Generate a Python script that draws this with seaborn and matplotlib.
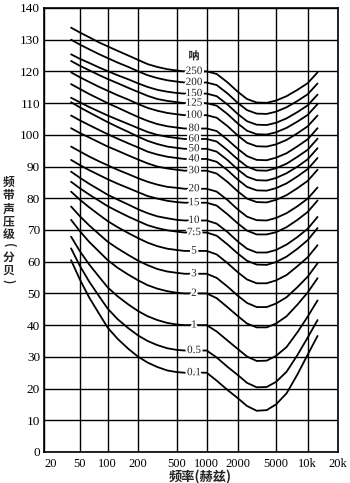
import numpy as np
import pandas as pd
import matplotlib
matplotlib.use("Agg")
import matplotlib.pyplot as plt
import seaborn as sns
from matplotlib import patheffects as pe
from matplotlib.ticker import NullLocator

# ---------------- data ----------------
FREQ = [40, 50, 63, 80, 100, 125, 160, 200, 250, 315, 400, 500, 600,
        1000, 1250, 1600, 2000, 2500, 3150, 4000, 5000, 6300, 8000, 10000, 12500]

SONE_LABELS = ['250', '200', '150', '125', '100', '80', '60', '50', '40', '30',
               '20', '15', '10', '7.5', '5', '3', '2', '1', '0.5', '0.1']

s250 = [133.8, 132.3, 130.8, 129.2, 127.9, 126.5, 125.0, 123.6, 122.3, 121.4, 120.7, 120.3, 120.0, 120.0, 119.2, 116.5, 113.6, 111.3, 110.2, 110.1, 110.8, 112.2, 114.2, 116.3, 119.7]
s200 = [130.0, 128.5, 127.0, 125.5, 124.2, 122.8, 121.4, 120.0, 118.8, 117.9, 117.2, 116.8, 116.5, 116.5, 115.7, 113.0, 110.1, 107.8, 106.7, 106.6, 107.3, 108.7, 110.7, 112.8, 116.2]
s150 = [125.4, 124.0, 122.7, 121.3, 120.1, 118.8, 117.5, 116.2, 115.1, 114.2, 113.6, 113.2, 113.0, 113.0, 112.2, 109.5, 106.6, 104.3, 103.2, 103.1, 103.8, 105.2, 107.2, 109.3, 112.7]
s125 = [123.3, 121.8, 120.4, 118.9, 117.6, 116.3, 114.8, 113.5, 112.3, 111.3, 110.7, 110.3, 110.0, 110.0, 109.2, 106.5, 103.6, 101.3, 100.2, 100.1, 100.8, 102.2, 104.2, 106.3, 109.7]
s100 = [119.7, 118.2, 116.7, 115.2, 113.9, 112.5, 111.1, 109.7, 108.5, 107.6, 106.9, 106.5, 106.2, 106.2, 105.4, 102.7, 99.8, 97.5, 96.4, 96.3, 97.0, 98.4, 100.5, 102.7, 106.1]
s80 = [116.0, 114.5, 112.9, 111.4, 110.0, 108.6, 107.0, 105.6, 104.4, 103.4, 102.7, 102.3, 102.0, 102.0, 101.2, 98.4, 95.6, 93.3, 92.1, 92.0, 92.8, 94.2, 96.4, 98.6, 102.1]
s60 = [111.7, 110.3, 108.8, 107.4, 106.1, 104.8, 103.4, 102.1, 100.9, 100.0, 99.4, 99.0, 98.7, 98.7, 97.9, 95.1, 92.3, 90.0, 88.8, 88.7, 89.5, 90.9, 93.1, 95.3, 98.8]
s50 = [110.3, 108.7, 107.1, 105.5, 104.0, 102.5, 100.9, 99.4, 98.1, 97.1, 96.3, 95.9, 95.6, 95.6, 94.7, 92.0, 89.1, 86.8, 85.7, 85.6, 86.4, 87.9, 90.0, 92.3, 95.8]
s40 = [106.1, 104.6, 103.1, 101.6, 100.2, 98.8, 97.3, 96.0, 94.7, 93.8, 93.1, 92.7, 92.4, 92.4, 91.5, 88.8, 85.9, 83.6, 82.5, 82.4, 83.2, 84.7, 86.9, 89.2, 92.7]
s30 = [102.1, 100.6, 99.2, 97.7, 96.3, 95.0, 93.5, 92.2, 91.0, 90.0, 89.4, 89.0, 88.7, 88.7, 87.8, 85.1, 82.2, 79.9, 78.8, 78.7, 79.5, 81.0, 83.2, 85.5, 89.0]
s20 = [96.3, 94.8, 93.2, 91.7, 90.4, 89.0, 87.6, 86.3, 85.2, 84.3, 83.6, 83.3, 83.0, 83.0, 82.1, 79.4, 76.5, 74.2, 73.1, 73.0, 73.8, 75.3, 77.5, 79.9, 83.4]
s15 = [92.1, 90.5, 88.9, 87.4, 86.0, 84.6, 83.2, 81.9, 80.7, 79.9, 79.2, 78.8, 78.6, 78.6, 77.7, 74.9, 72.1, 69.8, 68.6, 68.6, 69.3, 70.9, 73.2, 75.7, 79.3]
s10 = [88.4, 86.5, 84.6, 82.8, 81.1, 79.6, 78.0, 76.5, 75.3, 74.3, 73.7, 73.2, 73.0, 73.0, 72.0, 69.3, 66.4, 64.1, 62.9, 62.9, 63.7, 65.4, 67.8, 70.4, 74.1]
s7_5 = [85.2, 83.2, 81.2, 79.3, 77.5, 75.9, 74.2, 72.8, 71.5, 70.6, 69.9, 69.5, 69.2, 69.2, 68.2, 65.4, 62.6, 60.3, 59.1, 59.0, 59.9, 61.6, 64.1, 66.8, 70.6]
s5 = [82.1, 79.6, 77.2, 74.9, 72.8, 70.9, 69.0, 67.4, 66.0, 64.9, 64.1, 63.7, 63.4, 63.4, 62.3, 59.5, 56.7, 54.4, 53.2, 53.2, 54.1, 55.8, 58.6, 61.4, 65.2]
s3 = [77.4, 74.4, 71.5, 68.8, 66.3, 64.2, 62.1, 60.3, 58.9, 57.7, 56.9, 56.5, 56.2, 56.2, 54.9, 52.1, 49.3, 47.0, 45.7, 45.7, 46.8, 48.8, 52.0, 55.3, 59.5]
s2 = [73.2, 69.7, 66.3, 63.3, 60.5, 58.1, 55.9, 54.1, 52.6, 51.5, 50.7, 50.2, 50.0, 50.0, 48.5, 45.6, 42.9, 40.5, 39.3, 39.3, 40.5, 42.8, 46.5, 50.3, 54.8]
s1 = [67.9, 63.4, 59.2, 55.4, 51.9, 49.1, 46.5, 44.4, 42.8, 41.6, 40.7, 40.2, 40.0, 40.0, 38.0, 35.1, 32.5, 30.1, 28.7, 28.8, 30.3, 33.1, 37.8, 42.7, 47.8]
s0_5 = [64.2, 58.8, 53.8, 49.3, 45.2, 41.9, 39.0, 36.7, 35.0, 33.7, 32.7, 32.2, 32.0, 32.0, 29.8, 26.8, 24.3, 21.8, 20.4, 20.5, 22.1, 25.3, 30.6, 36.1, 41.6]
s0_1 = [60.5, 54.5, 48.8, 43.8, 39.2, 35.7, 32.5, 30.0, 28.2, 26.8, 25.7, 25.2, 25.0, 25.0, 22.5, 19.5, 17.0, 14.5, 13.0, 13.2, 15.0, 18.5, 24.5, 30.7, 36.6]

CURVES = [s250, s200, s150, s125, s100, s80, s60, s50, s40, s30,
          s20, s15, s10, s7_5, s5, s3, s2, s1, s0_5, s0_1]

X_TICKS = [20, 50, 100, 200, 500, 1000, 2000, 5000, 10000, 20000]
X_TICK_LABELS = ['20', '50', '100', '200', '500', '1000', '2000', '5000', '10k', '20k']
Y_TICKS = list(range(0, 141, 10))

# measured pixel offsets of the printed grid lines (the paper's axis is not exactly log)
GRID_PX = [0, 35.4, 63.4, 94.0, 132.4, 162.4, 193.4, 231.7, 263.4, 294.0]
LOG_T = np.log10(X_TICKS)


def fwd(x):
    x = np.asarray(x, dtype=float)
    lx = np.log10(np.clip(x, 1e-6, None))
    return np.interp(lx, LOG_T, GRID_PX)


def inv(y):
    y = np.asarray(y, dtype=float)
    return 10 ** np.interp(y, GRID_PX, LOG_T)


rows = []
for name, vals in zip(SONE_LABELS, CURVES):
    for f, v in zip(FREQ, vals):
        rows.append({"curve": name, "freq": f, "level": v})
df = pd.DataFrame(rows)

# ---------------- figure ----------------
sns.set_style("white")
plt.rcParams['font.family'] = ['Liberation Serif', 'Noto Sans CJK SC', 'DejaVu Sans']

W, H = 350, 483
fig = plt.figure(figsize=(W / 100, H / 100), dpi=100)
ax = fig.add_axes([44.3 / W, 1 - 452 / H, 294 / W, 444 / H])

sns.lineplot(data=df, x="freq", y="level", units="curve", estimator=None,
             color="black", linewidth=1.3, sort=False, legend=False, ax=ax)

ax.set_xscale("function", functions=(fwd, inv))
ax.set_xlim(20, 20000)
ax.set_ylim(0, 140)
ax.set_xticks(X_TICKS)
ax.set_xticklabels(X_TICK_LABELS)
ax.xaxis.set_minor_locator(NullLocator())
ax.set_yticks(Y_TICKS)
ax.set_axisbelow(True)
ax.grid(True, color="black", linewidth=1.0)
ax.tick_params(axis="both", length=0, colors="black")
ax.tick_params(axis="y", pad=3, labelsize=9.5)
ax.tick_params(axis="x", pad=4, labelsize=9)
for sp in ax.spines.values():
    sp.set_color("black")
    sp.set_linewidth(1.2)
    sp.set_visible(True)
ax.set_xlabel("")
ax.set_ylabel("")
ax.get_xticklabels()[0].set_horizontalalignment("left")

# curve labels (sone), placed between the 500 and 1000 Hz grid lines
stroke = [pe.withStroke(linewidth=3.0, foreground="white")]
for name, vals in zip(SONE_LABELS, CURVES):
    ax.text(745, vals[FREQ.index(1000)], name, ha="center", va="center",
            fontsize=8, path_effects=stroke, zorder=5)
ax.text(745, 124.9, "呐", ha="center", va="center", fontsize=8,
        family="Noto Sans CJK SC", weight="bold", path_effects=stroke, zorder=5)

# axis titles
fig.text(200 / W, 1 - 477 / H, "频率(赫兹)", ha="center", va="center",
         fontsize=9.5, family="Noto Sans CJK SC", weight="bold")

ylab_chars = ["频", "带", "声", "压", "级", "(", "分", "贝", ")"]
ylab_px = [182.5, 196, 209, 222, 235, 245, 257.5, 271, 281]
for ch, py in zip(ylab_chars, ylab_px):
    rot = -90 if ch in "()" else 0
    fig.text(8.5 / W, 1 - py / H, ch, ha="center", va="center", rotation=rot,
             fontsize=8.5, family="Noto Sans CJK SC", weight="bold")

fig.savefig("out.png", dpi=100)
